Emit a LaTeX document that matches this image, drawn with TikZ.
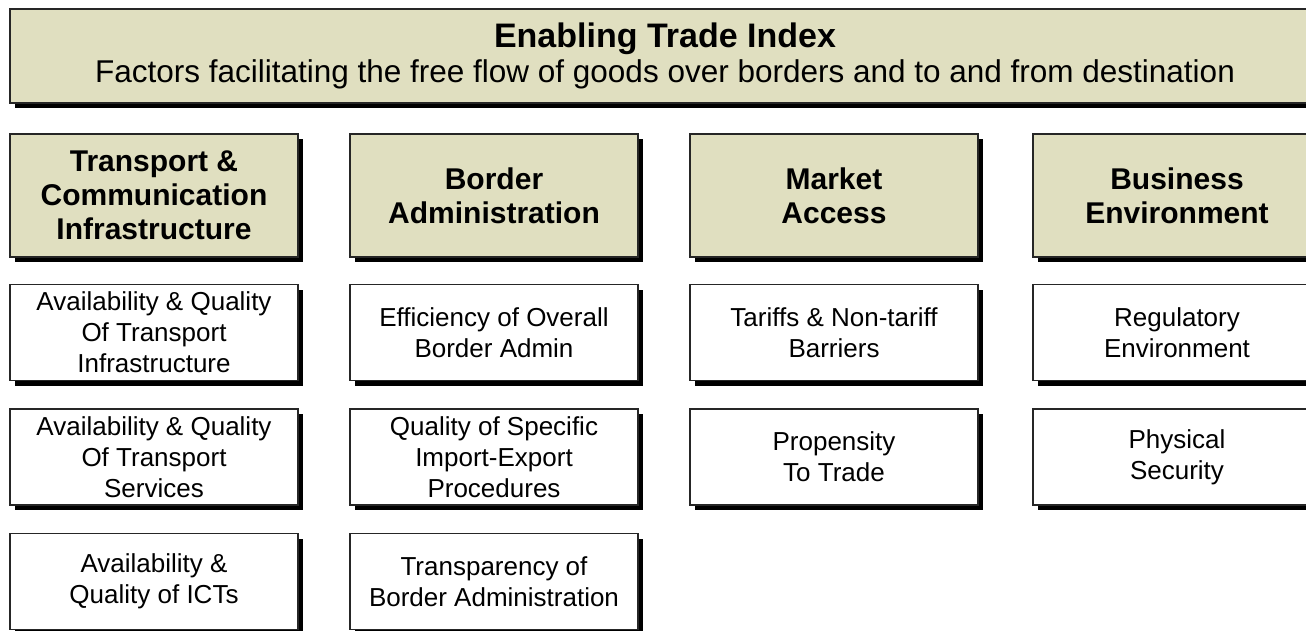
\documentclass[tikz,border=0pt]{standalone}
\usepackage{fontspec}
\setmainfont{Liberation Sans}
\usetikzlibrary{positioning, shadows}
\definecolor{khaki}{RGB}{224,223,192}

\begin{document}
\begin{tikzpicture}[node distance=124.5pt,on grid]
    \tikzstyle{shade}=[drop shadow={shadow xshift=5pt,shadow yshift=-5pt,fill=black,opacity=1}]
    \tikzstyle{titlebox}=[shape=rectangle,draw=black!85,line width=1.6pt,fill=khaki,shade,
      minimum width=1310pt,minimum height=94pt,align=center]
    \tikzstyle{pillar}=[shape=rectangle,draw=black!85,line width=1.6pt,fill=khaki,shade,
      minimum width=288pt,minimum height=123pt,align=center,
      font=\bfseries\fontsize{30}{34}\selectfont]
    \tikzstyle{factor}=[shape=rectangle,draw=black!85,line width=1.6pt,fill=white,shade,
      minimum width=288pt,minimum height=96pt,align=center,
      font=\fontsize{26}{31}\selectfont]

    \useasboundingbox[fill=white] (0pt,0pt) rectangle (1306pt,-630pt);

    \node[titlebox] (T0) at (665pt,-56pt)
      {{\bfseries\fontsize{34}{38}\selectfont Enabling Trade Index}\\[4pt]
       {\fontsize{31.5}{36}\selectfont Factors facilitating the free flow of goods over borders and to and from destination}};

    \node[pillar] (H1) at (154pt,-195.5pt) {Transport \&\\Communication\\Infrastructure};
    \node[pillar, right=340pt of H1] (H2) {Border\\Administration};
    \node[pillar, right=340pt of H2] (H3) {Market\\Access};
    \node[pillar, right=343pt of H3] (H4) {Business\\Environment};

    \node[factor, below=137pt of H1] (A1) {Availability \& Quality\\Of Transport\\Infrastructure};
    \node[factor, below of=A1] (A2) {Availability \& Quality\\Of Transport\\Services};
    \node[factor, below of=A2] (A3) {Availability \&\\Quality of ICTs};

    \node[factor, below=137pt of H2] (B1) {Efficiency of Overall\\Border Admin};
    \node[factor, below of=B1] (B2) {Quality of Specific\\Import-Export\\Procedures};
    \node[factor, below of=B2] (B3) {Transparency of\\Border Administration};

    \node[factor, below=137pt of H3] (C1) {Tariffs \& Non-tariff\\Barriers};
    \node[factor, below of=C1] (C2) {Propensity\\To Trade};

    \node[factor, below=137pt of H4] (D1) {Regulatory\\Environment};
    \node[factor, below of=D1] (D2) {Physical\\Security};

  \end{tikzpicture}
\end{document}
